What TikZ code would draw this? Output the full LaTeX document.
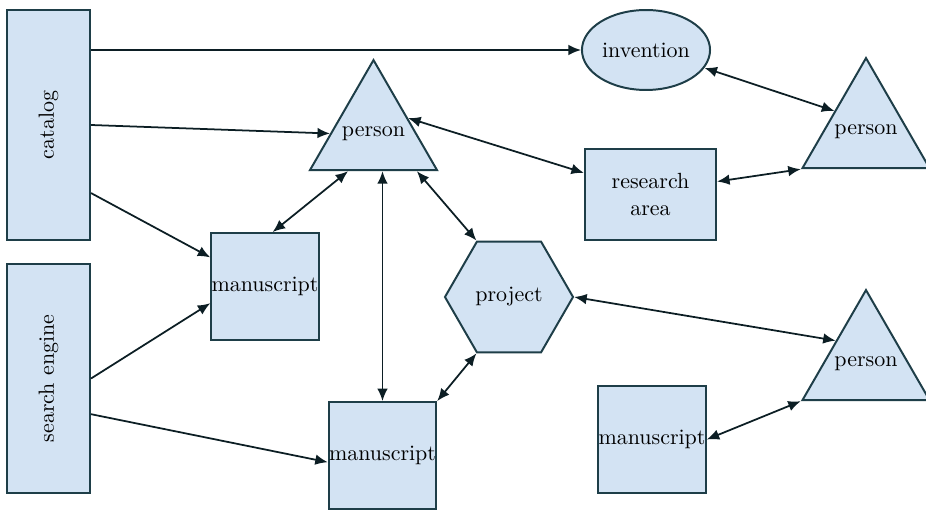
\documentclass[tikz,border=0pt]{standalone}
\usepackage{tikz}
\usetikzlibrary{shapes,arrows,arrows.meta,positioning}
\definecolor{boxfill}{RGB}{211,227,243}
\definecolor{boxline}{RGB}{30,62,72}
\definecolor{linkline}{RGB}{12,30,36}
\tikzset{
  every node/.style={
    font=\normalsize
  },
  thing/.style={
    shape=rectangle,
    draw=boxline,
    fill=boxfill,
    line width=0.9pt,
    inner sep=0pt,
    text centered
  },
  source/.style={
    thing,
    minimum width=1.33cm,
    minimum height=3.67cm
  },
  paper/.style={
    thing,
    minimum width=1.72cm,
    minimum height=1.71cm
  },
  topic/.style={
    thing,
    minimum width=2.1cm,
    minimum height=1.46cm,
    align=center
  },
  agent/.style={
    thing,
    shape=regular polygon,
    regular polygon sides=3,
    minimum size=2.35cm
  },
  plan/.style={
    thing,
    shape=regular polygon,
    regular polygon sides=6,
    minimum size=2.05cm
  },
  idea/.style={
    thing,
    shape=ellipse,
    minimum width=2.05cm,
    minimum height=1.28cm
  },
  link/.style={
    draw=linkline,
    line width=0.8pt,
    -{Latex[length=2mm,width=1.7mm]}
  },
  mutual/.style={
    link,
    {Latex[length=2mm,width=1.7mm]}-{Latex[length=2mm,width=1.7mm]}
  }
}

\begin{document}
\begin{tikzpicture}[x=0.016cm,y=-0.016cm]
    \useasboundingbox (0,0) rectangle (926,510);
    % sources on the left
    \node [source] (catalog) at (48.5,125) {\rotatebox{90}{catalog}};
    \node [source] (search) at (48.5,378.5) {\rotatebox{90}{search engine}};
    % manuscripts
    \node [paper] (ms1) at (265,286.5) {manuscript};
    \node [paper] (ms2) at (382.5,455.5) {manuscript};
    \node [paper] (ms3) at (652,439.5) {manuscript};
    % persons
    \node [agent] (person1) at (373.5,133.5) {\makebox[0pt]{person}};
    \node [agent] (person2) at (866,131.5) {\makebox[0pt]{person}};
    \node [agent] (person3) at (866,363.5) {\makebox[0pt]{person}};
    % the rest
    \node [idea] (invention) at (646,50) {invention};
    \node [topic] (area) at (650.5,194.5) {research\\area};
    \node [plan] (project) at (509,297) {project};

    \draw [link] (catalog.east |- invention.west) -- (invention.west);
    \draw [link] (catalog.east) -- (person1.west);
    \draw [link] (catalog.-58) -- (ms1.152);
    \draw [link] (search.east) -- (ms1.-163);
    \draw [link] (search.-40) -- (ms2.-173);
    \draw [mutual] (person1.-124) -- (ms1.82);
    \draw [mutual] (ms2.north |- person1.south) -- (ms2.north);
    \draw [mutual] (person1.-41) -- (project.120);
    \draw [mutual] (person1.24) -- (area.162);
    \draw [mutual] (invention.-17) -- (person2.147);
    \draw [mutual] (area.11) -- (person2.corner 2);
    \draw [mutual] (project.east) -- (person3.143);
    \draw [mutual] (project.240) -- (ms2.north east);
    \draw [mutual] (ms3.east) -- (person3.corner 2);
  \end{tikzpicture}
\end{document}
